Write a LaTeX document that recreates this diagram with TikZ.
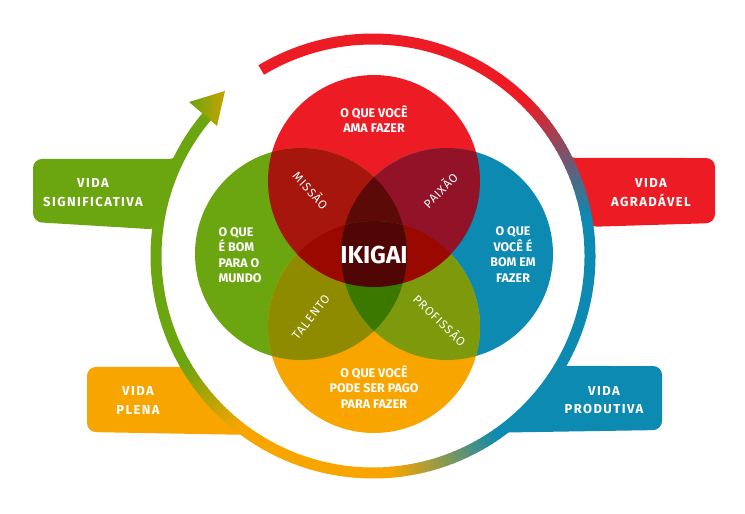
\documentclass[tikz,border=0pt]{standalone}
\usepackage{fontspec}
\setmainfont{Fira Sans}
\newfontfamily\boxfont{Fira Sans}[LetterSpace=11]
\newfontfamily\lensfont{Fira Sans}[LetterSpace=8]
\definecolor{ikRed}{HTML}{ED1C24}
\definecolor{ikGreen}{HTML}{6BA50F}
\definecolor{ikBlue}{HTML}{0C8AB2}
\definecolor{ikOrange}{HTML}{F8A500}
\definecolor{ikRG}{HTML}{A6160C}
\definecolor{ikRB}{HTML}{921228}
\definecolor{ikGO}{HTML}{8E8B00}
\definecolor{ikBO}{HTML}{7C9A0C}
\definecolor{ikRO}{HTML}{9A0800}
\definecolor{ikGBO}{HTML}{3A7800}
\definecolor{ikRGB}{HTML}{5C0A07}
\definecolor{ikAll}{HTML}{500604}
\definecolor{ikTip}{HTML}{C6A300}
% ring piece fading from #3 to #4 between the angles #1 and #2
\newcommand{\ringfade}[5]{%
  \foreach \k in {1,...,#5}{
    \pgfmathsetmacro{\aa}{#1+(#2-#1)*(\k-1)/#5}
    \pgfmathsetmacro{\bb}{#1+(#2-#1)*\k/#5+0.4}
    \pgfmathsetmacro{\pp}{100-100*(\k-0.5)/#5}
    \draw[ringline, #3!\pp!#4] ([shift={(ring)}]\aa:217) arc[start angle=\aa, end angle=\bb, radius=217];
  }}
\begin{document}
\begin{tikzpicture}[x=1pt, y=-1pt,
  ringline/.style={line width=11pt},
  boxtext/.style={text=white, align=center, font=\boxfont\fontsize{13}{18.5}\selectfont\bfseries},
  venntext/.style={text=white, align=center, font=\fontsize{12.5}{15.5}\selectfont\bfseries},
  lenstext/.style={text=white, font=\lensfont\fontsize{12}{13}\selectfont}]
\useasboundingbox (0,0) rectangle (745,514);
\coordinate (ring) at (373,256);
\coordinate (cr) at (374,181);
\coordinate (cg) at (301,254);
\coordinate (cb) at (447,254);
\coordinate (co) at (374,327);

% callout boxes
\fill[ikGreen, rounded corners=9] ([shift={(ring)}]206.6:217) -- (33,159) -- (33,222) -- ([shift={(ring)}]187:217) arc[start angle=187, end angle=206.6, radius=217] -- cycle;
\fill[ikRed, rounded corners=9] ([shift={(ring)}]-26.85:217) -- (715,158) -- (715,223) -- ([shift={(ring)}]-7.7:217) arc[start angle=-7.7, end angle=-26.85, radius=217] -- cycle;
\fill[ikOrange] ([shift={(ring)}]149.9:221) [rounded corners=9] -- (87,367) -- (87,432) [sharp corners] -- ([shift={(ring)}]126:221) arc[start angle=126, end angle=149.9, radius=221] -- cycle;
\fill[ikBlue] ([shift={(ring)}]29.85:221) [rounded corners=9] -- (662,366) -- (662,430) [sharp corners] -- ([shift={(ring)}]53:221) arc[start angle=53, end angle=29.85, radius=221] -- cycle;

% the ring
\draw[ringline, ikRed] ([shift={(ring)}]-121:217) arc[start angle=-121, end angle=-44.6, radius=217];
\ringfade{-45}{-10}{ikRed}{ikBlue}{24}
\draw[ringline, ikBlue] ([shift={(ring)}]-10:217) arc[start angle=-10, end angle=55.4, radius=217];
\ringfade{55}{85}{ikBlue}{ikOrange}{24}
\draw[ringline, ikOrange] ([shift={(ring)}]85:217) arc[start angle=85, end angle=128.4, radius=217];
\ringfade{128}{150}{ikOrange}{ikGreen}{18}
\draw[ringline, ikGreen] ([shift={(ring)}]150:217) arc[start angle=150, end angle=220.5, radius=217];
\coordinate (tipa) at (189,102);
\coordinate (tip) at (225,91);
\coordinate (tipb) at (217,126);
\shade[left color=ikGreen, right color=ikTip] (tipa) -- (tip) -- (tipb) -- cycle;

% the four circles
\fill[ikRed] (cr) circle[radius=106];
\fill[ikGreen] (cg) circle[radius=106];
\fill[ikBlue] (cb) circle[radius=106];
\fill[ikOrange] (co) circle[radius=106];
\begin{scope}
  \clip (co) circle[radius=106];
  \fill[ikGO] (cg) circle[radius=106];
  \fill[ikBO] (cb) circle[radius=106];
\end{scope}
\begin{scope}
  \clip (cr) circle[radius=106];
  \fill[ikRG] (cg) circle[radius=106];
  \fill[ikRB] (cb) circle[radius=106];
  \fill[ikRO] (co) circle[radius=106];
  \clip (cg) circle[radius=106];
  \fill[ikRGB] (cb) circle[radius=106];
\end{scope}
\begin{scope}
  \clip (co) circle[radius=106];
  \clip (cg) circle[radius=106];
  \fill[ikGBO] (cb) circle[radius=106];
  \clip (cr) circle[radius=106];
  \fill[ikAll] (cb) circle[radius=106];
\end{scope}

% texts
\node at (93,192.5) (signif) [boxtext] {VIDA\\SIGNIFICATIVA};
\node at (651,192.5) (agrad) [boxtext] {VIDA\\AGRADÁVEL};
\node at (138,400.5) (plena) [boxtext] {VIDA\\PLENA};
\node at (604,400) (produt) [boxtext] {VIDA\\PRODUTIVA};
\node at (374,119) (ama) [venntext] {O QUE VOCÊ\\AMA FAZER};
\node at (215,255) (mundo) [venntext, align=left, anchor=west] {O QUE\\É BOM\\PARA O\\MUNDO};
\node at (513,254.5) (fazer) [venntext] {O QUE\\VOCÊ É\\BOM EM\\FAZER};
\node at (374,387) (pago) [venntext] {O QUE VOCÊ\\PODE SER PAGO\\PARA FAZER};
\node at (374,255) (ikigai) [text=white, font=\fontsize{24.5}{24.5}\selectfont\bfseries] {IKIGAI};
\node at (311,190) (missao) [lenstext, rotate=-48] {MISSÃO};
\node at (440,190) (paixao) [lenstext, rotate=46] {PAIXÃO};
\node at (311,317) (talento) [lenstext, rotate=52] {TALENTO};
\node at (440,320) (profissao) [lenstext, rotate=-44] {PROFISSÃO};
\end{tikzpicture}
\end{document}
